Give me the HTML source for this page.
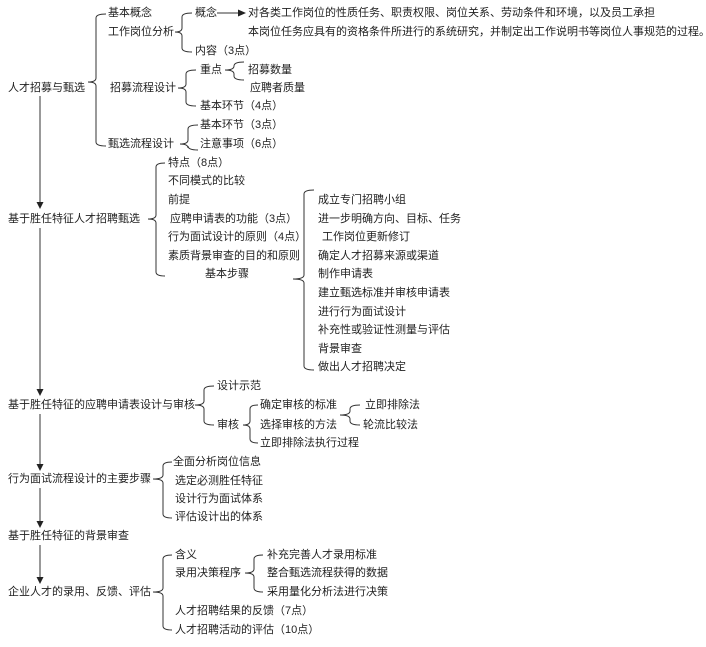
<!DOCTYPE html>
<html><head><meta charset="utf-8"><style>
body{margin:0;width:706px;height:647px;background:#fff;overflow:hidden;position:relative;font-family:"Liberation Sans","Noto Sans CJK SC",sans-serif;font-size:11px;color:#222}
.t{position:absolute;white-space:nowrap;line-height:14px}
svg{position:absolute;left:0;top:0}
</style></head><body>
<svg id="s" width="706" height="647" viewBox="0 0 706 647"></svg>
<div id="c"></div>
<script>
var T=[
[8,88,"人才招募与甄选"],[108,13,"基本概念"],[108,32,"工作岗位分析"],[195,13,"概念"],
[248,13,"对各类工作岗位的性质任务、职责权限、岗位关系、劳动条件和环境，以及员工承担"],
[248,32,"本岗位任务应具有的资格条件所进行的系统研究，并制定出工作说明书等岗位人事规范的过程。"],
[195,51,"内容（3点）"],[110,88,"招募流程设计"],[200,70,"重点"],[248,70,"招募数量"],[250,88,"应聘者质量"],
[200,106,"基本环节（4点）"],[108,144,"甄选流程设计"],[200,125,"基本环节（3点）"],[200,144,"注意事项（6点）"],
[8,219,"基于胜任特征人才招聘甄选"],[168,163,"特点（8点）"],[168,181,"不同模式的比较"],[168,200,"前提"],
[170,219,"应聘申请表的功能（3点）"],[168,237,"行为面试设计的原则（4点）"],[168,256,"素质背景审查的目的和原则"],[205,274,"基本步骤"],
[318,200,"成立专门招聘小组"],[318,219,"进一步明确方向、目标、任务"],[322,237,"工作岗位更新修订"],[318,256,"确定人才招募来源或渠道"],
[318,274,"制作申请表"],[318,293,"建立甄选标准并审核申请表"],[318,312,"进行行为面试设计"],[318,330,"补充性或验证性测量与评估"],
[318,349,"背景审查"],[318,367,"做出人才招聘决定"],
[8,405,"基于胜任特征的应聘申请表设计与审核"],[217,386,"设计示范"],[217,425,"审核"],[260,405,"确定审核的标准"],
[260,425,"选择审核的方法"],[260,443,"立即排除法执行过程"],[365,405,"立即排除法"],[363,425,"轮流比较法"],
[8,479,"行为面试流程设计的主要步骤"],[173,462,"全面分析岗位信息"],[175,481,"选定必测胜任特征"],[175,499,"设计行为面试体系"],[175,517,"评估设计出的体系"],
[8,536,"基于胜任特征的背景审查"],
[8,592,"企业人才的录用、反馈、评估"],[175,555,"含义"],[175,573,"录用决策程序"],[267,555,"补充完善人才录用标准"],
[267,573,"整合甄选流程获得的数据"],[267,592,"采用量化分析法进行决策"],[175,611,"人才招聘结果的反馈（7点）"],[175,630,"人才招聘活动的评估（10点）"]
];
var h="";T.forEach(function(a){h+='<div class="t" style="left:'+a[0]+'px;top:'+(a[1]-7)+'px">'+a[2]+'</div>'});
document.getElementById("c").innerHTML=h;
function b(x0,xm,x1,yt,yn,yb){var r=4;return '<path d="M'+x1+','+yt+' Q'+xm+','+yt+' '+xm+','+(yt+r)+' L'+xm+','+(yn-r)+' Q'+xm+','+yn+' '+x0+','+yn+' Q'+xm+','+yn+' '+xm+','+(yn+r)+' L'+xm+','+(yb-r)+' Q'+xm+','+yb+' '+x1+','+yb+'"/>';}
var s='<g fill="none" stroke="#333" stroke-width="1">';
s+=b(88,96,106,14,82,146);
s+=b(175,182,192,13,32,52);
s+=b(178,186,196,70,88,106);
s+=b(225,234,244,62,70,80);
s+=b(180,188,198,125,144,150);
s+=b(148,156,165,163,219,276);
s+=b(293,304,314,190,279,370);
s+=b(195,204,214,386,405,425);
s+=b(243,250,258,405,425,443);
s+=b(340,350,360,405,415,425);
s+=b(153,163,172,462,479,518);
s+=b(245,254,263,555,573,592);
s+=b(153,163,172,555,592,630);
s+='<line x1="217" y1="13" x2="238" y2="13"/>';
var A=[[96,202],[228,389],[414,464],[488,521],[545,577]];
A.forEach(function(a){s+='<line x1="40" y1="'+a[0]+'" x2="40" y2="'+a[1]+'"/>'});
s+='</g><g fill="#222">';
s+='<polygon points="238,9.5 246,13 238,16.5"/>';
A.forEach(function(a){s+='<polygon points="36.5,'+a[1]+' 43.5,'+a[1]+' 40,'+(a[1]+7)+'"/>'});
s+='</g>';
document.getElementById("s").innerHTML=s;
</script>
</body></html>
